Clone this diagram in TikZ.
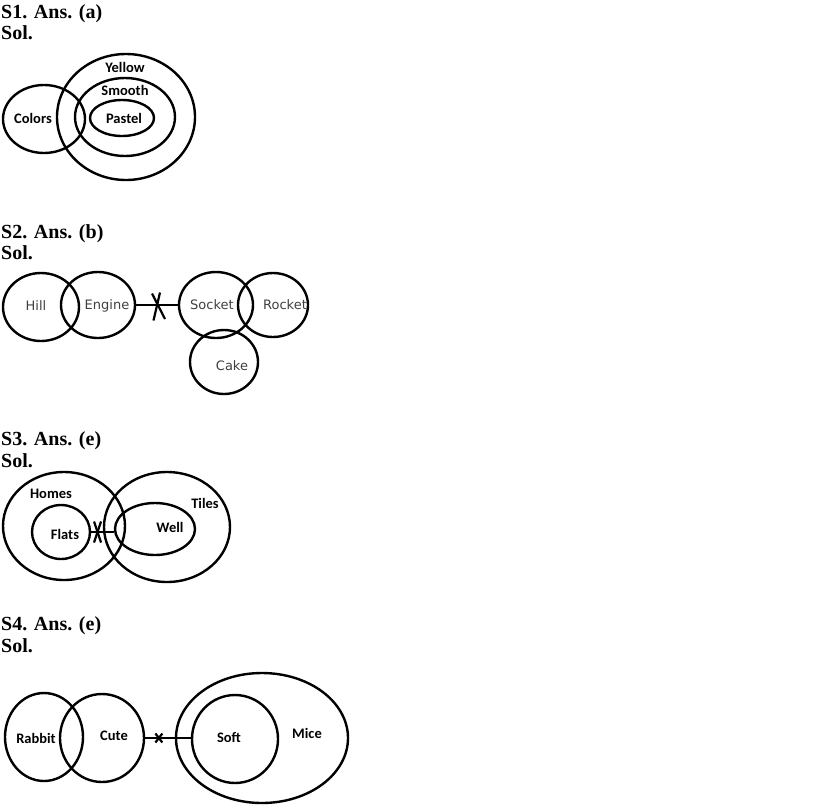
\documentclass[tikz,border=0pt]{standalone}
\usepackage{fontspec}
\setmainfont{Liberation Serif}
\newfontfamily\lblfont{Carlito}
\newfontfamily\grayfont{DejaVu Sans}
\usetikzlibrary{shapes.geometric,calc}
\begin{document}
\begin{tikzpicture}[x=1pt,y=-1pt,
  heading/.style={anchor=base west,inner sep=0pt,font=\fontsize{20}{22}\selectfont\bfseries},
  ring/.style={draw,ellipse,line width=2.4pt,inner sep=0pt},
  lbl/.style={inner sep=0pt,font=\lblfont\fontsize{14.5}{16}\selectfont\bfseries},
  glbl/.style={inner sep=0pt,text=black!75,font=\grayfont\fontsize{13}{15}\selectfont},
  conn/.style={line width=2.2pt},
  cross/.style={line width=2.2pt}]
\useasboundingbox (0,0) rectangle (828,807);
\fill[white] (0,0) rectangle (828,807);
% ---------- S1
\node[heading] (h1) at (1,18.5) {S1. Ans. (a)};
\node[heading] (s1) at (1,39) {Sol.};
\node[ring,minimum width=82,minimum height=68] (colors) at (44,119) {};
\node[ring,minimum width=138,minimum height=126] (yellow) at (126,117) {};
\node[ring,minimum width=100,minimum height=78] (smooth) at (125,117) {};
\node[ring,minimum width=64,minimum height=36] (pastel) at (122,118) {};
\node[lbl] (tcolors) at (33,118) {Colors};
\node[lbl] (tyellow) at (125,67) {Yellow};
\node[lbl] (tsmooth) at (125,90) {Smooth};
\node[lbl] (tpastel) at (124,118) {Pastel};
% ---------- S2
\node[heading] (h2) at (1,238) {S2. Ans. (b)};
\node[heading] (s2) at (1,259.5) {Sol.};
\node[ring,minimum width=76,minimum height=68] (hill) at (41,307) {};
\node[ring,minimum width=74,minimum height=66] (engine) at (98,305) {};
\node[ring,minimum width=74,minimum height=66] (socket) at (216,305) {};
\node[ring,minimum width=70,minimum height=64] (rocket) at (273,305) {};
\node[ring,minimum width=68,minimum height=64] (cake) at (224,362) {};
\node[glbl] (thill) at (36,306) {Hill};
\node[glbl] (tengine) at (107,306) {Engine};
\node[glbl] (tsocket) at (212,305) {Socket};
\node[glbl] (trocket) at (285,305) {Rocket};
\node[glbl] (tcake) at (232,366) {Cake};
\draw[conn] (engine.east) -- (engine.east -| socket.west) coordinate[pos=0.5] (x2);
\draw[cross] ($(x2)+(-5,-11.5)$) -- ($(x2)+(8,14)$);
\draw[cross] ($(x2)+(3,-12.5)$) -- ($(x2)+(-3.5,15.5)$);
% ---------- S3
\node[heading] (h3) at (1,445) {S3. Ans. (e)};
\node[heading] (s3) at (1,467) {Sol.};
\node[ring,minimum width=122,minimum height=108] (homes) at (64,526) {};
\node[ring,minimum width=58,minimum height=54] (flats) at (61,532) {};
\node[ring,minimum width=126,minimum height=110] (tiles) at (167,527) {};
\node[ring,minimum width=80,minimum height=52] (well) at (155,529) {};
\node[lbl] (thomes) at (51,494) {Homes};
\node[lbl] (tflats) at (65,534) {Flats};
\node[lbl] (twell) at (170,527) {Well};
\node[lbl] (ttiles) at (205,503) {Tiles};
\draw[conn] (flats.east) -- (flats.east -| well.west) coordinate[pos=0.28] (x3);
\draw[cross] ($(x3)+(-3.5,-10.5)$) -- ($(x3)+(3.5,10.5)$);
\draw[cross] ($(x3)+(3.5,-10.5)$) -- ($(x3)+(-3.5,10.5)$);
% ---------- S4
\node[heading] (h4) at (1,630) {S4. Ans. (e)};
\node[heading] (s4) at (1,652) {Sol.};
\node[ring,minimum width=78,minimum height=88] (rabbit) at (44,737) {};
\node[ring,minimum width=84,minimum height=88] (cute) at (102,738) {};
\node[ring,minimum width=172,minimum height=130] (mice) at (262,738) {};
\node[ring,minimum width=86,minimum height=88] (soft) at (235,739) {};
\node[lbl] (trabbit) at (36,738) {Rabbit};
\node[lbl] (tcute) at (114,736) {Cute};
\node[lbl] (tsoft) at (229,738) {Soft};
\node[lbl] (tmice) at (307,733) {Mice};
\draw[conn] (cute.east) -- (cute.east -| soft.west) coordinate[pos=0.3] (x4);
\draw[cross] ($(x4)+(-3.5,-4.5)$) -- ($(x4)+(3.5,4.5)$);
\draw[cross] ($(x4)+(3.5,-4.5)$) -- ($(x4)+(-3.5,4.5)$);
\end{tikzpicture}
\end{document}
